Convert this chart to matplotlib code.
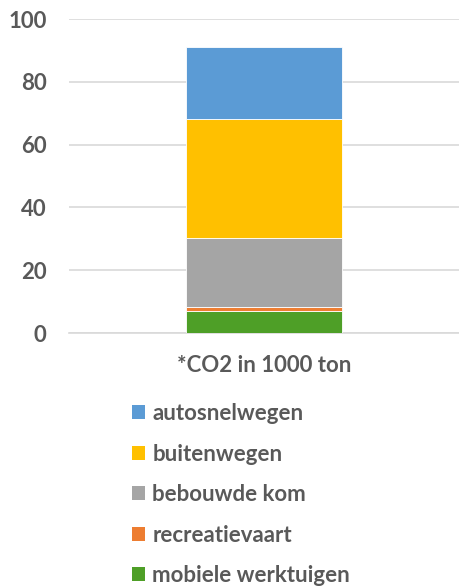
import matplotlib
matplotlib.use("Agg")
import matplotlib.pyplot as plt
from matplotlib.patches import Patch

category = ["*CO2 in 1000 ton"]
series_names = ["mobiele werktuigen", "recreatievaart", "bebouwde kom", "buitenwegen", "autosnelwegen"]
series_values = [7.1, 1.2, 21.9, 38.0, 23.0]
colors = ["#4E9F27", "#ED7D31", "#A5A5A5", "#FFC000", "#5B9BD5"]
yticks = [0, 20, 40, 60, 80, 100]

plt.rcParams['font.family'] = ['Lato', 'DejaVu Sans']
text_color = "#595959"
fs = 16

fig = plt.figure(figsize=(4.59, 5.87), dpi=100)
ax = fig.add_axes([0.150, 1 - 333/587, 0.850, (333 - 19)/587])

bottom = 0.0
for name, val, col in zip(series_names, series_values, colors):
    ax.bar(0, val, width=0.4, bottom=bottom, color=col, edgecolor="white", linewidth=0.6, zorder=3, label=name)
    bottom += val

ax.set_xlim(-0.5, 0.5)
ax.set_ylim(0, 100)
ax.set_yticks(yticks)
ax.set_yticklabels([str(t) for t in yticks], fontsize=fs, fontweight='bold', color=text_color)
ax.set_xticks([0])
ax.set_xticklabels(category, fontsize=fs, fontweight='bold', color=text_color)
ax.tick_params(axis='both', length=0)
ax.tick_params(axis='y', pad=16)
ax.tick_params(axis='x', pad=16)
ax.grid(axis='y', color="#D9D9D9", linewidth=1.2, zorder=0)
for s in ['left', 'right', 'top']:
    ax.spines[s].set_visible(False)
ax.spines['bottom'].set_color("#D9D9D9")
ax.spines['bottom'].set_linewidth(1.2)

handles = [Patch(facecolor=c, edgecolor='none') for c in colors[::-1]]
labels = series_names[::-1]
fig.legend(handles, labels, loc='upper left', bbox_to_anchor=(112/459, 1 - 383/587),
           frameon=False, handlelength=0.6, handleheight=0.6,
           handletextpad=0.32, labelspacing=0.88, labelcolor=text_color,
           prop={'weight': 'bold', 'size': fs})

fig.savefig("out.png", dpi=100)
